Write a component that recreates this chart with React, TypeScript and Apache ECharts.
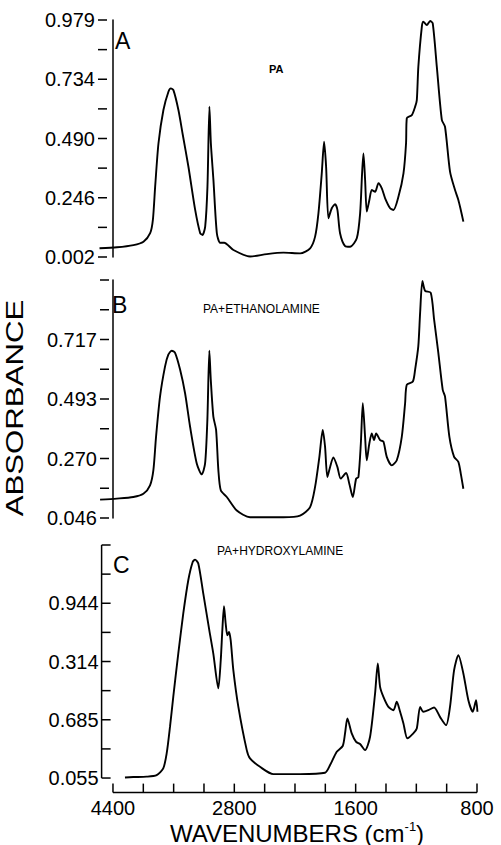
import React, { useEffect, useRef } from "react";
import * as echarts from "echarts";

// ---------- DATA ----------
// Panel A : PA
const waveA = [4580, 4350, 4132, 4000, 3912, 3876, 3846, 3802, 3737, 3671, 3639, 3605, 3539, 3481, 3407, 3318, 3252, 3222, 3186, 3156, 3130, 3111, 3077, 3032, 2989, 2936, 2813, 2645, 2480, 2315, 2150, 2051, 2002, 1969, 1936, 1913, 1893, 1870, 1837, 1804, 1781, 1755, 1705, 1656, 1593, 1571, 1558, 1549, 1538, 1527, 1510, 1494, 1472, 1450, 1428, 1406, 1373, 1351, 1318, 1285, 1268, 1263, 1230, 1208, 1197, 1187, 1164, 1154, 1131, 1109, 1092, 1065, 1032, 1011, 978, 945, 923, 907, 890];
const absA = [0.038, 0.042, 0.051, 0.065, 0.100, 0.155, 0.292, 0.471, 0.608, 0.683, 0.697, 0.690, 0.608, 0.505, 0.374, 0.196, 0.100, 0.093, 0.127, 0.292, 0.622, 0.471, 0.319, 0.100, 0.061, 0.061, 0.031, 0.004, 0.014, 0.020, 0.017, 0.038, 0.086, 0.182, 0.347, 0.477, 0.374, 0.162, 0.203, 0.220, 0.196, 0.100, 0.047, 0.044, 0.079, 0.182, 0.347, 0.429, 0.319, 0.189, 0.237, 0.278, 0.271, 0.306, 0.285, 0.244, 0.203, 0.196, 0.251, 0.347, 0.471, 0.574, 0.587, 0.622, 0.649, 0.786, 0.951, 0.972, 0.958, 0.975, 0.965, 0.786, 0.567, 0.539, 0.354, 0.278, 0.237, 0.196, 0.148];

// Panel B : PA + ethanolamine
const waveB = [4571, 4351, 4132, 4000, 3912, 3868, 3833, 3780, 3714, 3671, 3626, 3582, 3516, 3450, 3384, 3296, 3230, 3186, 3156, 3130, 3111, 3077, 3041, 3011, 2979, 2900, 2776, 2645, 2480, 2315, 2150, 2051, 2002, 1959, 1926, 1903, 1880, 1853, 1821, 1781, 1748, 1695, 1663, 1629, 1597, 1582, 1566, 1553, 1538, 1527, 1510, 1494, 1479, 1465, 1439, 1417, 1395, 1362, 1329, 1296, 1274, 1263, 1223, 1208, 1187, 1175, 1160, 1142, 1105, 1083, 1055, 1026, 1011, 982, 951, 923, 907, 890];
const absB = [0.115, 0.119, 0.125, 0.137, 0.169, 0.226, 0.351, 0.503, 0.616, 0.660, 0.675, 0.667, 0.604, 0.515, 0.389, 0.251, 0.210, 0.251, 0.415, 0.675, 0.566, 0.427, 0.377, 0.226, 0.150, 0.125, 0.074, 0.049, 0.049, 0.049, 0.055, 0.087, 0.162, 0.276, 0.377, 0.314, 0.200, 0.238, 0.274, 0.238, 0.194, 0.215, 0.175, 0.125, 0.194, 0.200, 0.326, 0.478, 0.351, 0.263, 0.326, 0.364, 0.339, 0.364, 0.339, 0.333, 0.276, 0.244, 0.263, 0.351, 0.478, 0.547, 0.559, 0.604, 0.692, 0.818, 0.937, 0.900, 0.893, 0.793, 0.667, 0.528, 0.503, 0.351, 0.276, 0.257, 0.213, 0.156];

// Panel C : PA + hydroxylamine
const waveC = [4242, 4132, 3956, 3824, 3737, 3692, 3648, 3605, 3539, 3473, 3407, 3349, 3318, 3275, 3209, 3130, 3077, 3011, 2979, 2958, 2936, 2914, 2892, 2870, 2848, 2813, 2760, 2677, 2645, 2546, 2414, 2150, 1903, 1853, 1787, 1728, 1705, 1682, 1639, 1597, 1571, 1538, 1505, 1472, 1454, 1439, 1417, 1384, 1351, 1329, 1307, 1285, 1259, 1220, 1197, 1175, 1154, 1121, 1083, 1044, 1004, 978, 951, 923, 890, 857, 828, 806, 797];
const absC = [0.058, 0.060, 0.062, 0.070, 0.104, 0.180, 0.316, 0.468, 0.688, 0.892, 1.061, 1.154, 1.166, 1.146, 0.993, 0.807, 0.688, 0.511, 0.654, 0.807, 0.929, 0.841, 0.781, 0.798, 0.756, 0.604, 0.417, 0.197, 0.155, 0.112, 0.075, 0.075, 0.082, 0.121, 0.189, 0.218, 0.282, 0.358, 0.282, 0.239, 0.228, 0.197, 0.265, 0.485, 0.638, 0.519, 0.468, 0.417, 0.400, 0.443, 0.392, 0.333, 0.257, 0.282, 0.307, 0.417, 0.392, 0.400, 0.414, 0.366, 0.324, 0.417, 0.604, 0.680, 0.587, 0.451, 0.392, 0.451, 0.392];

// Axis ticks / labels
const xTickWaves = [4400, 4000, 3600, 3200, 2800, 2500, 2200, 1900, 1600, 1400, 1200, 1000, 800];
const xLabelWaves = [4400, 2800, 1600, 800];
const xLabelTexts = ["4400", "2800", "1600", "800"];

// y range of each panel (bottom tick, top tick); 4 major divisions, one minor tick in each
const yRangeA = [0.002, 0.979];
const yLabelTextsA = ["0.002", "0.246", "0.490", "0.734", "0.979"];

const yRangeB = [0.046, 0.9407];
const yLabelTextsB = ["0.046", "0.270", "0.493", "0.717"];

const yRangeC = [0.055, 1.2403];
const yLabelTextsC = ["0.055", "0.685", "0.314", "0.944"];

const panelLetters = ["A", "B", "C"];
const panelTitles = ["PA", "PA+ETHANOLAMINE", "PA+HYDROXYLAMINE"];

// ---------- helpers ----------
// piecewise wavenumber scale of the original plot (one tick per unit)
function pos(w: number): number {
  if (w >= 2800) return (4400 - w) / 400;
  if (w >= 1600) return 4 + (2800 - w) / 300;
  return 8 + (1600 - w) / 200;
}

// absorbance -> half-division units of a panel's y axis
function yUnit(range: number[], v: number): number {
  return (v - range[0]) / ((range[1] - range[0]) / 8);
}

const FONT = "'Liberation Sans', Arial, Helvetica, sans-serif";
const BLACK = "#000";
const TICK = 9;
const Y_DIVS = 8;

function yAxis(grid: number, texts: string[], min: number, interval: number, lineShow: boolean) {
  return {
    gridIndex: grid,
    type: "value",
    min,
    max: Y_DIVS,
    interval,
    splitLine: { show: false },
    axisLine: { show: lineShow, lineStyle: { color: BLACK, width: 1.5 } },
    axisTick: { show: false },
    axisLabel: {
      show: true,
      formatter: (v: number) => {
        if (Math.abs(v - Math.round(v)) > 1e-6) return "";
        const k = Math.round(v);
        return k >= 0 && k % 2 === 0 && texts[k / 2] !== undefined ? texts[k / 2] : "";
      },
      fontSize: 20,
      fontFamily: FONT,
      color: BLACK,
      margin: 3,
      showMinLabel: true,
      showMaxLabel: true,
    },
  };
}

function txt(x: number, y: number, text: string, fontSize: number, extra: any = {}) {
  return {
    type: "text",
    x,
    y,
    silent: true,
    style: {
      text,
      fontSize,
      fontFamily: FONT,
      fill: BLACK,
      textAlign: "left",
      textVerticalAlign: "middle",
      align: "left",
      verticalAlign: "middle",
      ...extra,
    },
  };
}

export default function App() {
  const ref = useRef<HTMLDivElement>(null);

  useEffect(() => {
    if (!ref.current) return;
    const chart = echarts.init(ref.current, null, { renderer: "svg" });

    const mk = (w: number[], a: number[], r: number[]) => w.map((x, i) => [pos(x), yUnit(r, a[i])]);

    const xLabelPos = xLabelWaves.map(pos);
    const xTickPos = xTickWaves.map(pos);
    const xMax = xTickPos[xTickPos.length - 1];
    // panel C: y axis stands left of the first x tick, x axis below the y axis foot
    const xMins = [-0.5, -0.43, -0.375];
    const xStepC = 0.125;
    const yMinC = -0.5;
    const yStepC = 0.5;

    const texts: any[] = [
      txt(115, 41, panelLetters[0], 23),
      txt(112, 305, panelLetters[1], 23),
      txt(113, 565, panelLetters[2], 23),
      txt(269, 69, panelTitles[0], 11, { fontWeight: "bold" }),
      txt(203, 309, panelTitles[1], 12),
      txt(217, 551, panelTitles[2], 12),
      {
        type: "text",
        x: 15,
        y: 408,
        rotation: Math.PI / 2,
        scaleX: 1.3,
        silent: true,
        style: { text: "ABSORBANCE", fontSize: 24, fontFamily: FONT, fill: BLACK, textAlign: "center", textVerticalAlign: "middle", align: "center", verticalAlign: "middle" },
      },
      {
        type: "text",
        x: 297,
        y: 833,
        silent: true,
        style: {
          text: "{a|WAVENUMBERS (cm}{s|-1}{a|)}",
          fill: BLACK,
          textAlign: "center",
          textVerticalAlign: "middle",
          align: "center",
          verticalAlign: "middle",
          rich: {
            a: { fontSize: 24, fontFamily: FONT, fill: BLACK, color: BLACK, lineHeight: 26 },
            s: { fontSize: 13, fontFamily: FONT, fill: BLACK, color: BLACK, verticalAlign: "top", lineHeight: 14 },
          },
        },
      },
    ];

    const option: any = {
      animation: false,
      backgroundColor: "#fff",
      grid: [
        { left: 98, top: 20, width: 379, height: 237, containLabel: false, outerBoundsMode: "none" },
        { left: 100, top: 280, width: 377, height: 238, containLabel: false, outerBoundsMode: "none" },
        { left: 101.6, top: 545, width: 375.4, height: 247.6, containLabel: false, outerBoundsMode: "none" },
      ],
      xAxis: [
        { gridIndex: 0, type: "value", min: xMins[0], max: xMax, show: false },
        { gridIndex: 1, type: "value", min: xMins[1], max: xMax, show: false },
        {
          gridIndex: 2,
          type: "value",
          min: xMins[2],
          max: xMax,
          interval: xStepC,
          splitLine: { show: false },
          axisLine: { show: false },
          axisTick: { show: false },
          axisLabel: {
            show: true,
            formatter: (v: number) => {
              const i = xLabelPos.findIndex((p) => Math.abs(p - v) < 0.01);
              return i >= 0 ? xLabelTexts[i] : "";
            },
            fontSize: 20,
            fontFamily: FONT,
            color: BLACK,
            margin: 5,
            showMinLabel: true,
            showMaxLabel: true,
          },
        },
      ],
      yAxis: [
        yAxis(0, yLabelTextsA, 0, 1, true),
        yAxis(1, yLabelTextsB, 0, 1, true),
        yAxis(2, yLabelTextsC, yMinC, yStepC, false),
      ],
      series: [
        { data: mk(waveA, absA, yRangeA), xAxisIndex: 0, yAxisIndex: 0 },
        { data: mk(waveB, absB, yRangeB), xAxisIndex: 1, yAxisIndex: 1 },
        { data: mk(waveC, absC, yRangeC), xAxisIndex: 2, yAxisIndex: 2 },
      ].map((s) => ({
        ...s,
        type: "line",
        showSymbol: false,
        symbol: "none",
        smooth: 0.25,
        clip: false,
        lineStyle: { color: BLACK, width: 1.9 },
      })),
      graphic: texts,
    };

    chart.setOption(option);

    // tick marks and panel C's axis lines, placed through the axes' own scales
    const toX = (ai: number, v: number) => Number(chart.convertToPixel({ xAxisIndex: ai } as any, v as any));
    const toY = (ai: number, v: number) => Number(chart.convertToPixel({ yAxisIndex: ai } as any, v as any));
    const marks: any[] = [];
    const st = { stroke: BLACK, lineWidth: 1.5 };
    const seg = (x1: number, y1: number, x2: number, y2: number) => {
      if ([x1, y1, x2, y2].every((n) => isFinite(n))) {
        marks.push({ type: "line", silent: true, z: 100, shape: { x1, y1, x2, y2 }, style: st });
      }
    };
    for (let g = 0; g < 3; g++) {
      const x0 = toX(g, xMins[g]);
      for (let k = 0; k <= Y_DIVS; k++) {
        const y = toY(g, k);
        seg(x0, y, x0 + TICK, y);
      }
    }
    const cx0 = toX(2, xMins[2]);
    seg(cx0, toY(2, 0), cx0, toY(2, Y_DIVS));
    const cyb = toY(2, yMinC);
    seg(toX(2, xTickPos[0]), cyb, toX(2, xMax), cyb);
    xTickPos.forEach((v) => {
      const x = toX(2, v);
      seg(x, cyb, x, cyb - TICK);
    });
    chart.setOption({ graphic: [...texts, ...marks] });

    return () => chart.dispose();
  }, []);

  return (
    <div
      ref={ref}
      style={{ position: "fixed", left: 0, top: 0, width: 501, height: 845, background: "#fff" }}
    />
  );
}
